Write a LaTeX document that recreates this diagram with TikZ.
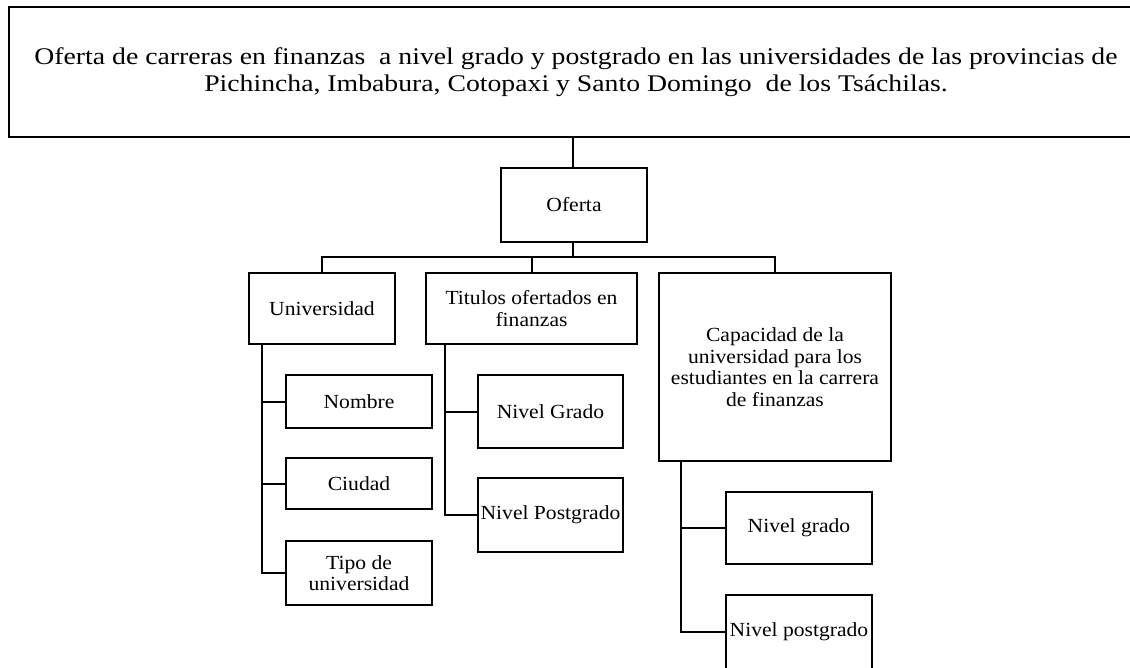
\documentclass[tikz,border=0pt]{standalone}
\usepackage{fontspec}
\setmainfont{Liberation Serif}
\newfontfamily\boxfont[FakeStretch=1.08]{Liberation Serif}
\newfontfamily\topfont[FakeStretch=1.16]{Liberation Serif}
\begin{document}
\begin{tikzpicture}[x=1pt,y=-1pt,
  topbox/.style={draw,line width=2.6pt,minimum width=1134pt,minimum height=130pt,inner sep=0pt,align=center,
    font=\topfont\fontsize{23.9}{26.5}\selectfont},
  obox/.style={draw,line width=2pt,inner sep=0pt,align=center,font=\boxfont\fontsize{20}{21.5}\selectfont},
  conn/.style={line width=2pt}]
\useasboundingbox (0,0) rectangle (1130,667);
\node[topbox] (top) at (576,72) {Oferta de carreras en finanzas\ \ a nivel grado y postgrado en las universidades de las provincias de\\Pichincha,\ Imbabura,\ Cotopaxi y Santo Domingo\ \ de los Tsáchilas.};
\node[obox,minimum width=146pt,minimum height=74pt] (of) at (574,205) {Oferta};
\node[obox,minimum width=146pt,minimum height=71pt] (un) at (322,308.5) {Universidad};
\node[obox,minimum width=211pt,minimum height=71pt] (ti) at (531.5,308.5) {Titulos ofertados en\\finanzas};
\node[obox,minimum width=232pt,minimum height=188pt] (ca) at (775,367) {Capacidad de la\\universidad para los\\estudiantes en la carrera\\de finanzas};
\node[obox,minimum width=146pt,minimum height=53pt] (no) at (359,401.5) {Nombre};
\node[obox,minimum width=146pt,minimum height=51pt] (ci) at (359,483.5) {Ciudad};
\node[obox,minimum width=146pt,minimum height=64pt] (tp) at (359,573) {Tipo de\\universidad};
\node[obox,minimum width=145pt,minimum height=73pt] (ng) at (550.5,411.5) {Nivel Grado};
\node[obox,minimum width=145pt,minimum height=74pt] (np) at (550.5,515) {Nivel Postgrado};
\node[obox,minimum width=146pt,minimum height=72pt] (cg) at (799,528) {Nivel grado};
\node[obox,minimum width=146pt,minimum height=74pt] (cp) at (799,632) {Nivel postgrado};
\coordinate (bus) at (573,257);
\draw[conn] (of.north -| bus) -- (top.south -| bus);
\draw[conn] (of.south -| bus) -- (bus);
\draw[conn] (un.north) -- (un.north |- bus) -- (ca.north |- bus) -- (ca.north);
\draw[conn] (ti.north) -- (ti.north |- bus);
\coordinate (ul) at ([xshift=14pt]un.south west);
\coordinate (tl) at ([xshift=20pt]ti.south west);
\coordinate (cl) at ([xshift=23pt]ca.south west);
\draw[conn] (ul) |- (tp.west);
\draw[conn] (ul |- no.west) -- (no.west);
\draw[conn] (ul |- ci.west) -- (ci.west);
\draw[conn] (tl) |- (np.west);
\draw[conn] (tl |- ng.west) -- (ng.west);
\draw[conn] (cl) |- (cp.west);
\draw[conn] (cl |- cg.west) -- (cg.west);
\end{tikzpicture}
\end{document}
